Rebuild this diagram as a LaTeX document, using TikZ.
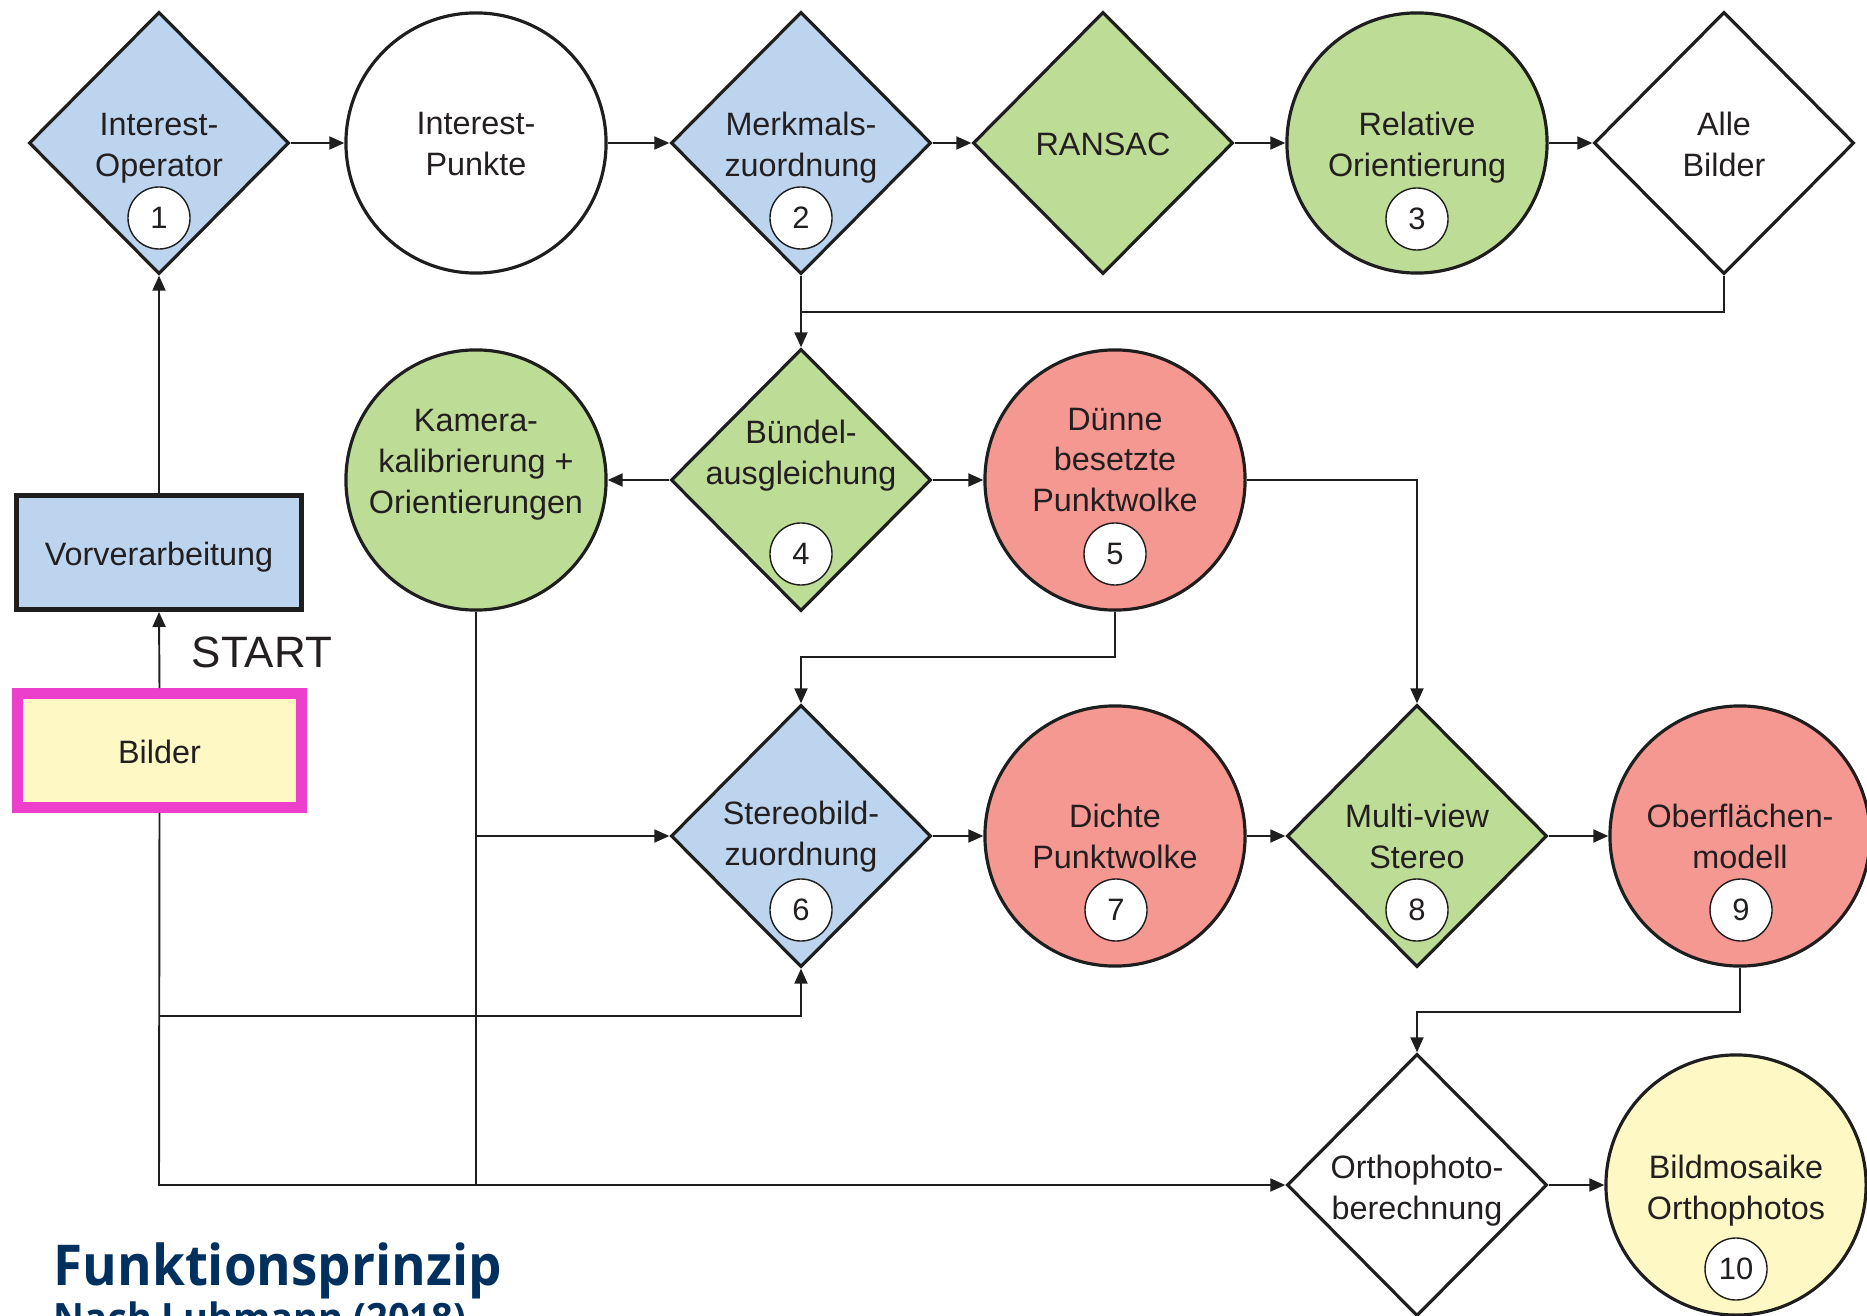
\documentclass[tikz,border=0pt]{standalone}
\usepackage{fontspec}
\setmainfont{Liberation Sans}
\newfontfamily\titlefont[FakeStretch=0.94]{Open Sans}
\usetikzlibrary{shapes.geometric,arrows.meta}
\definecolor{cblue}{HTML}{BCD4EE}
\definecolor{cgreen}{HTML}{BDDC96}
\definecolor{cred}{HTML}{F59892}
\definecolor{cyellow}{HTML}{FEF8C5}
\definecolor{cmag}{HTML}{EC40CC}
\definecolor{navy}{HTML}{00305E}
\definecolor{lc}{HTML}{1E1E1E}
\definecolor{tc}{HTML}{231F20}
\tikzset{
  dia/.style={diamond, draw=lc, line width=0.9pt, minimum width=2.6cm, minimum height=2.62cm, inner sep=0pt, aspect=1},
  circ/.style={circle, draw=lc, line width=0.9pt, minimum size=2.6cm, inner sep=0pt},
  txt/.style={align=center, font=\fontsize{9.2}{11.65}\selectfont, text=tc, inner sep=0pt},
  num/.style={circle, draw=lc, fill=white, line width=0.4pt, minimum size=0.62cm, inner sep=0pt, text=tc, font=\fontsize{8.8}{10}\selectfont},
  arr/.style={-{Triangle[length=0.15cm,width=0.13cm]}, line width=0.55pt, draw=lc},
  ln/.style={line width=0.55pt, draw=lc},
}
\begin{document}
\begin{tikzpicture}[x=0.01cm, y=-0.01cm]
\useasboundingbox (0,0) rectangle (1867,1316);
% row 1
\node[dia, fill=cblue] (d1) at (159,143) {};
\node[circ, fill=white] (ip) at (476,143) {};
\node[dia, fill=cblue] (d2) at (801,143) {};
\node[dia, fill=cgreen] (ran) at (1103,143) {};
\node[circ, fill=cgreen] (rel) at (1417,143) {};
\node[dia, fill=white] (alle) at (1724,143) {};
% row 2
\node[circ, fill=cgreen] (kam) at (476,480) {};
\node[dia, fill=cgreen] (d4) at (801,480) {};
\node[circ, fill=cred] (d5) at (1115,480) {};
% row 3
\node[dia, fill=cblue] (d6) at (801,836) {};
\node[circ, fill=cred] (d7) at (1115,836) {};
\node[dia, fill=cgreen] (d8) at (1417,836) {};
\node[circ, fill=cred] (d9) at (1740,836) {};
% row 4
\node[dia, fill=white] (ortho) at (1417,1185) {};
\node[circ, fill=cyellow] (d10) at (1736,1185) {};
% boxes
\node[draw=lc, line width=1.4pt, fill=cblue, minimum width=2.85cm, minimum height=1.14cm, inner sep=0pt] (vor) at (159,552.5) {};
\node[txt] (tvor) at (159,557) {Vorverarbeitung};
\node[draw=cmag, line width=3.1pt, fill=cyellow, minimum width=2.84cm, minimum height=1.14cm, inner sep=0pt] (bild) at (159.5,750.5) {};
\node[txt] (tbild) at (159.5,751.5) {Bilder};
\node[anchor=base, inner sep=0pt, text=tc, font=\fontsize{12.5}{14}\selectfont] (start) at (262,668) {START};
% texts
\node[txt] (t1) at (159,148) {Interest-\\Operator};
\node[txt] (tip) at (476,144) {Interest-\\Punkte};
\node[txt] (t2) at (801,148) {Merkmals-\\zuordnung};
\node[txt] (tran) at (1103,144) {RANSAC};
\node[txt] (trel) at (1417,148) {Relative\\Orientierung};
\node[txt] (talle) at (1724,144) {Alle\\Bilder};
\node[txt] (tkam) at (476,465) {Kamera-\\kalibrierung +\\Orientierungen};
\node[txt] (t4) at (801,456) {Bündel-\\ausgleichung};
\node[txt] (t5) at (1115,460) {Dünne\\besetzte\\Punktwolke};
\node[txt] (t6) at (801,837) {Stereobild-\\zuordnung};
\node[txt] (t7) at (1115,836) {Dichte\\Punktwolke};
\node[txt] (t8) at (1417,836) {Multi-view\\Stereo};
\node[txt] (t9) at (1740,836) {Oberflächen-\\modell};
\node[txt] (tortho) at (1417,1191) {Orthophoto-\\berechnung};
\node[txt] (t10) at (1736,1191) {Bildmosaike\\Orthophotos};
% numbers
\node[num] (n1) at (159,218) {1};
\node[num] (n2) at (801,218) {2};
\node[num] (n3) at (1417,219) {3};
\node[num] (n4) at (801,554) {4};
\node[num] (n5) at (1115,554) {5};
\node[num] (n6) at (801,910) {6};
\node[num] (n7) at (1116,910) {7};
\node[num] (n8) at (1417,910) {8};
\node[num] (n9) at (1741,910) {9};
\node[num] (n10) at (1736,1269) {10};
% connectors
\draw[arr] (bild.north) -- (vor.south);
\draw[arr] (vor.north) -- (d1.south);
\draw[arr] (d1) -- (ip);
\draw[arr] (ip) -- (d2);
\draw[arr] (d2) -- (ran);
\draw[arr] (ran) -- (rel);
\draw[arr] (rel) -- (alle);
\draw[arr] (d2) -- (d4);
\coordinate (j1) at (801,312);
\draw[ln] (alle.south) |- (j1);
\draw[arr] (d4) -- (kam);
\draw[arr] (d4) -- (d5);
\draw[arr] (d5.east) -| (d8.north);
\coordinate (j2) at (1115,657);
\draw[arr] (d5.south) -- (j2) -| (d6.north);
\coordinate (j3) at (476,1185);
\draw[ln] (kam.south) -- (j3);
\coordinate (j4) at (476,836);
\draw[arr] (j4) -- (d6.west);
\draw[arr] (d6) -- (d7);
\draw[arr] (d7) -- (d8);
\draw[arr] (d8) -- (d9);
\coordinate (j5) at (1740,1012);
\draw[arr] (d9.south) -- (j5) -| (ortho.north);
\coordinate (j6) at (159,1185);
\draw[arr] (bild.south) -- (j6) -- (ortho.west);
\coordinate (j7) at (159,1016);
\draw[arr] (j7) -| (d6.south);
\draw[arr] (ortho) -- (d10);
% title
\node[anchor=base west, inner sep=0pt, text=navy, font=\titlefont\bfseries\fontsize{16}{18}\selectfont] (title) at (53,1285) {Funktionsprinzip};
\node[anchor=base west, inner sep=0pt, text=navy, font=\titlefont\bfseries\fontsize{11.5}{13}\selectfont] (sub) at (53,1332) {Nach Luhmann (2018)};
\end{tikzpicture}
\end{document}
